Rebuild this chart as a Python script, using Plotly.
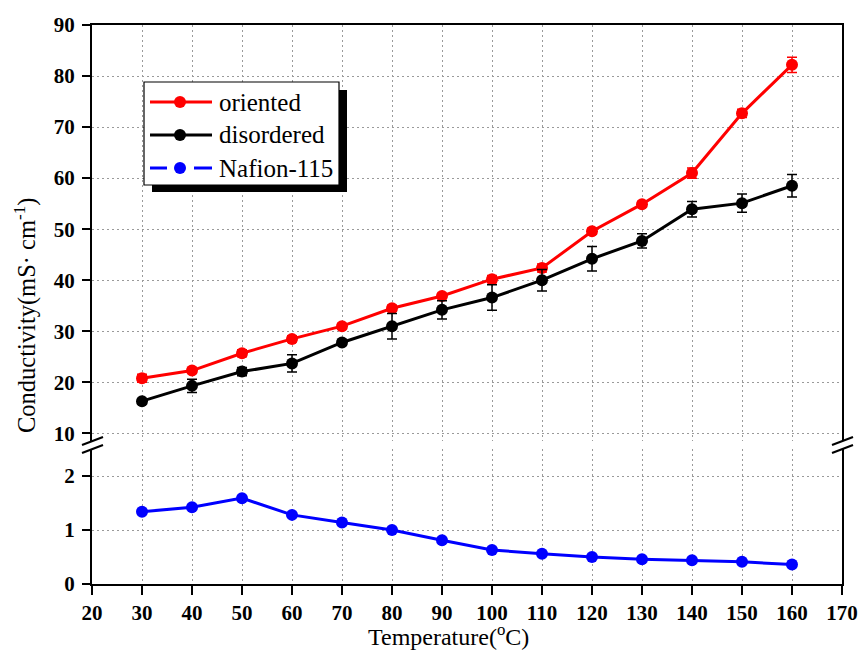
import plotly.graph_objects as go

temperature = [30, 40, 50, 60, 70, 80, 90, 100, 110, 120, 130, 140, 150, 160]
oriented = [20.8, 22.3, 25.7, 28.5, 31.0, 34.5, 36.9, 40.2, 42.4, 49.6, 54.9, 61.0, 72.7, 82.2]
oriented_err = [0.8, 0.5, 0.7, 0.6, 0.5, 0.6, 0.5, 0.7, 0.8, 0.6, 0.5, 1.0, 0.8, 1.5]
disordered = [16.3, 19.3, 22.1, 23.7, 27.8, 31.0, 34.2, 36.6, 40.0, 44.2, 47.7, 53.9, 55.1, 58.5]
disordered_err = [0.5, 1.3, 0.8, 1.7, 0.5, 2.5, 1.8, 2.5, 2.1, 2.4, 1.4, 1.5, 1.8, 2.2]
nafion = [1.34, 1.42, 1.59, 1.28, 1.14, 1.00, 0.81, 0.63, 0.56, 0.50, 0.46, 0.44, 0.41, 0.36]

series_names = ["oriented", "disordered", "Nafion-115"]
series_colors = ["#ff0000", "#000000", "#0000ff"]

x_ticks = list(range(20, 171, 10))
upper_ticks = list(range(10, 91, 10))
lower_ticks = [0, 1, 2]

FONT = "Liberation Serif, Times New Roman, serif"
GRID = dict(showgrid=True, gridcolor="#9a9a9a", gridwidth=1, griddash="2px,3px")

fig = go.Figure()
fig.add_trace(go.Scatter(
    x=temperature, y=oriented, name=series_names[0], mode="lines+markers",
    xaxis="x2", yaxis="y",
    line=dict(color=series_colors[0], width=3),
    marker=dict(color=series_colors[0], size=12),
    error_y=dict(type="data", array=oriented_err, color=series_colors[0], thickness=1.5, width=5),
))
fig.add_trace(go.Scatter(
    x=temperature, y=disordered, name=series_names[1], mode="lines+markers",
    xaxis="x2", yaxis="y",
    line=dict(color=series_colors[1], width=3),
    marker=dict(color=series_colors[1], size=12),
    error_y=dict(type="data", array=disordered_err, color=series_colors[1], thickness=1.5, width=5),
))
fig.add_trace(go.Scatter(
    x=temperature, y=nafion, name=series_names[2], mode="lines+markers",
    xaxis="x", yaxis="y2",
    line=dict(color=series_colors[2], width=3),
    marker=dict(color=series_colors[2], size=12),
))

# geometry measured on the reference (page pixels)
W, H = 860, 652
PL, PR, PT, PB = 92, 842, 25, 584
PW, PH = PR - PL, PB - PT
def px(p):
    return (p - PL) / PW
def py(p):
    return (PB - p) / PH

upper_bottom = py(441)
lower_top = py(449)

tickfont = dict(family=FONT, size=21, color="black", weight="bold")
common_y = dict(ticks="outside", ticklen=8, tickwidth=2, tickcolor="black",
                showline=True, mirror=True, linewidth=2, linecolor="black",
                tickfont=tickfont, zeroline=False, ticklabelstandoff=3,
                automargin=False, **GRID)

fig.update_layout(
    width=W, height=H, autosize=False,
    margin=dict(l=PL, r=W - PR, t=PT, b=H - PB, pad=0, autoexpand=False),
    paper_bgcolor="white", plot_bgcolor="white",
    font=dict(family=FONT, color="black"),
    xaxis=dict(domain=[0, 1], range=[20, 170], anchor="y2", tickvals=x_ticks,
               ticks="outside", ticklen=9, tickwidth=2, tickcolor="black",
               showline=True, linewidth=2, linecolor="black", tickfont=tickfont,
               zeroline=False, automargin=False, **GRID),
    xaxis2=dict(domain=[0, 1], range=[20, 170], anchor="y", matches="x", side="top",
                tickvals=x_ticks, showticklabels=False, ticks="",
                showline=True, linewidth=2, linecolor="black", zeroline=False,
                automargin=False, **GRID),
    yaxis=dict(domain=[upper_bottom, 1], range=[8.5, 90], tickvals=upper_ticks, **common_y),
    yaxis2=dict(domain=[0, lower_top], range=[0, 2.5], tickvals=lower_ticks, **common_y),
    showlegend=False,
)

shapes = []
# legend box with drop shadow
shapes.append(dict(type="rect", xref="paper", yref="paper",
                   x0=px(152), x1=px(347), y0=py(90), y1=py(192),
                   fillcolor="black", line=dict(width=0), layer="above"))
shapes.append(dict(type="rect", xref="paper", yref="paper",
                   x0=px(144), x1=px(339), y0=py(82), y1=py(185),
                   fillcolor="white", line=dict(color="black", width=1.2), layer="above"))
legend_rows = [102, 135, 168]
for i, (name, color) in enumerate(zip(series_names, series_colors)):
    yr = py(legend_rows[i])
    if i < 2:
        segs = [(150, 212)]
    else:
        segs = [(150, 167), (194, 212)]
    for a, b in segs:
        shapes.append(dict(type="line", xref="paper", yref="paper",
                           x0=px(a), x1=px(b), y0=yr, y1=yr,
                           line=dict(color=color, width=3), layer="above"))
    shapes.append(dict(type="circle", xref="paper", yref="paper",
                       xsizemode="pixel", ysizemode="pixel",
                       xanchor=px(180), yanchor=yr, x0=-6, x1=6, y0=-6, y1=6,
                       fillcolor=color, line=dict(width=0), layer="above"))
    fig.add_annotation(text=name, xref="paper", yref="paper", x=px(217), y=yr,
                       xanchor="left", yanchor="middle", showarrow=False,
                       font=dict(family=FONT, size=25, color="black"))

# axis break marks
for xa in (0, 1):
    for ya in (upper_bottom, lower_top):
        shapes.append(dict(type="line", xref="paper", yref="paper",
                           xsizemode="pixel", ysizemode="pixel",
                           xanchor=xa, yanchor=ya, x0=-10, x1=11, y0=-4, y1=4,
                           line=dict(color="black", width=2)))
fig.update_layout(shapes=shapes)

fig.add_annotation(text="Temperature(<sup>o</sup>C)", xref="paper", yref="paper",
                   x=px(448), y=py(635), xanchor="center", yanchor="middle", showarrow=False,
                   font=dict(family=FONT, size=24, color="black"))
fig.add_annotation(text="Conductivity(mS· cm<sup>-1</sup>)", xref="paper", yref="paper",
                   x=px(25), y=py(316), xanchor="center", yanchor="middle", showarrow=False,
                   textangle=-90, font=dict(family=FONT, size=24.5, color="black"))

fig.write_html("out.html", config={"displayModeBar": False},
               post_script="document.body.style.margin='0';document.body.style.overflow='hidden';")
